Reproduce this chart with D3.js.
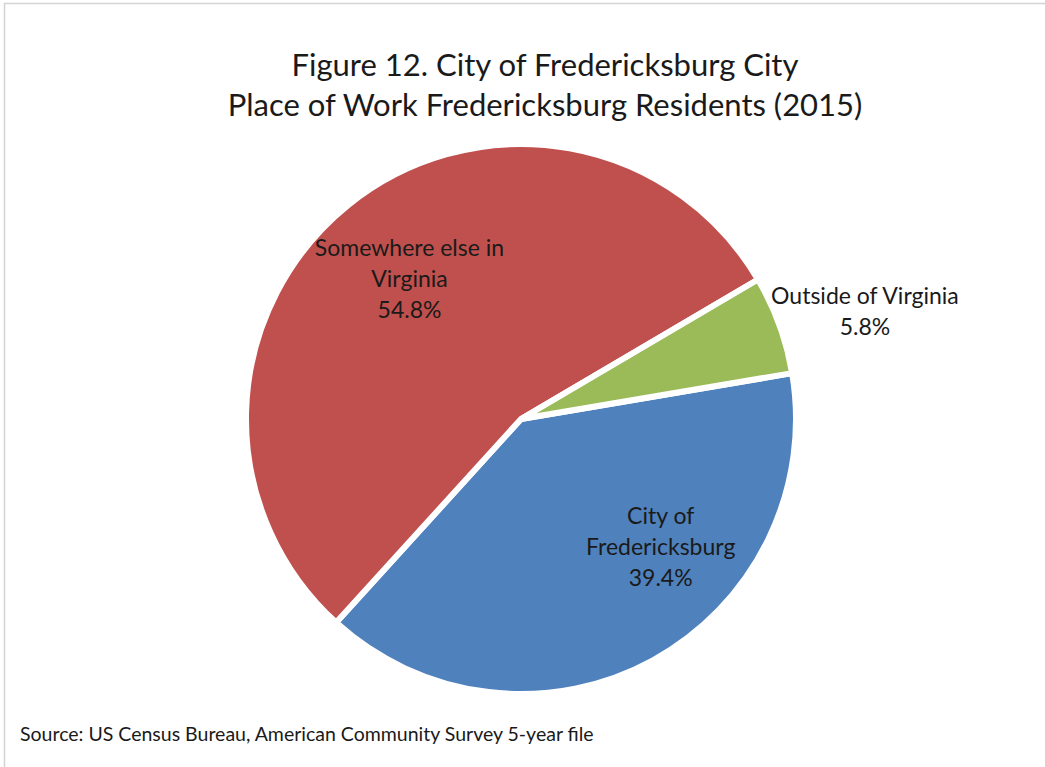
<!DOCTYPE html>
<html>
<head>
<meta charset="utf-8">
<script src="https://cdn.jsdelivr.net/npm/d3@7"></script>
<style>
  body { margin: 0; background: #fff; }
  svg text { font-family: Lato, "Noto Sans", sans-serif; fill: #1a1a1a; }
</style>
</head>
<body>
<script>
// Chart data
const categories = ["City of Fredericksburg", "Somewhere else in Virginia", "Outside of Virginia"];
const shares = [39.4, 54.8, 5.8];
const labelLines = [["City of", "Fredericksburg"], ["Somewhere else in", "Virginia"], ["Outside of Virginia"]];
const titleLines = ["Figure 12. City of Fredericksburg City", "Place of Work Fredericksburg Residents (2015)"];
const sourceNote = "Source: US Census Bureau, American Community Survey 5-year file";

const width = 1045;
const height = 767;
const cx = 521, cy = 419;
const radius = 275;
const startDeg = 80.4;

const color = d3.scaleOrdinal()
    .domain(categories)
    .range(["#4F81BD", "#C0504D", "#9BBB59"]);

// where each label sits: angle (deg, clockwise from 12 o'clock) and radius factor
const labelPlace = {
    "City of Fredericksburg": [132.6, 0.69],
    "Somewhere else in Virginia": [321.4, 0.65],
    "Outside of Virginia": [72.7, 1.31]
};

const data = categories.map((c, i) => ({ name: c, value: shares[i], lines: labelLines[i] }));

const svg = d3.select("body").append("svg")
    .attr("width", width)
    .attr("height", height)
    .attr("viewBox", [0, 0, width, height]);

// faint frame on top and left, as in the original screenshot
svg.append("path")
    .attr("d", `M4.5,${height} V3.5 H${width}`)
    .attr("fill", "none")
    .attr("stroke", "#d4d4d4")
    .attr("stroke-width", 1.5);

svg.append("g")
    .selectAll("text")
    .data(titleLines)
    .join("text")
    .attr("x", 545)
    .attr("y", (d, i) => 76 + i * 40)
    .attr("text-anchor", "middle")
    .style("font-size", "31px")
    .text(d => d);

const pie = d3.pie()
    .sort(null)
    .value(d => d.value)
    .startAngle(startDeg * Math.PI / 180)
    .endAngle(startDeg * Math.PI / 180 + 2 * Math.PI);

const arc = d3.arc().innerRadius(0).outerRadius(radius);

const g = svg.append("g").attr("transform", `translate(${cx},${cy})`);

const arcs = pie(data);

g.selectAll("path")
    .data(arcs)
    .join("path")
    .attr("d", arc)
    .attr("fill", d => color(d.data.name))
    .attr("stroke", "#fff")
    .attr("stroke-width", 6)
    .attr("stroke-linejoin", "miter");

// labels
const lineH = 31;
g.selectAll("text.lbl")
    .data(arcs)
    .join("text")
    .attr("class", "lbl")
    .attr("text-anchor", "middle")
    .style("font-size", "23px")
    .each(function(d) {
        const [deg, f] = labelPlace[d.data.name];
        const a = deg * Math.PI / 180;
        const x = Math.sin(a) * radius * f;
        const y = -Math.cos(a) * radius * f;
        const lines = d.data.lines.concat([d.data.value.toFixed(1) + "%"]);
        const top = y - (lines.length - 1) * lineH / 2 + 8;
        d3.select(this).selectAll("tspan")
            .data(lines)
            .join("tspan")
            .attr("x", x)
            .attr("y", (t, i) => top + i * lineH)
            .text(t => t);
    });

svg.append("text")
    .attr("x", 20)
    .attr("y", 741)
    .style("font-size", "19.5px")
    .text(sourceNote);
</script>
</body>
</html>
